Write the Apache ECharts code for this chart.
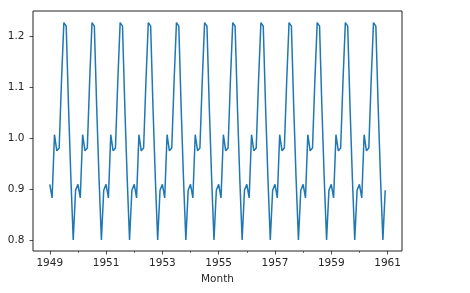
<!DOCTYPE html>
<html>
<head>
<meta charset="utf-8">
<script src="https://cdn.jsdelivr.net/npm/echarts@6/dist/echarts.min.js"></script>
<style>
html,body{margin:0;padding:0;background:#fff;}
#c{width:470px;height:293px;}
</style>
</head>
<body>
<div id="c"></div>
<script>
// Months 1949-01 .. 1960-12 (x as year fraction)
var startYear = 1949;
var seasonal = [
  0.9102, 0.8836, 1.0074, 0.9759, 0.9814, 1.1128, 1.2266, 1.2199, 1.0605, 0.9218, 0.8012, 0.8988,
  0.9102, 0.8836, 1.0074, 0.9759, 0.9814, 1.1128, 1.2266, 1.2199, 1.0605, 0.9218, 0.8012, 0.8988,
  0.9102, 0.8836, 1.0074, 0.9759, 0.9814, 1.1128, 1.2266, 1.2199, 1.0605, 0.9218, 0.8012, 0.8988,
  0.9102, 0.8836, 1.0074, 0.9759, 0.9814, 1.1128, 1.2266, 1.2199, 1.0605, 0.9218, 0.8012, 0.8988,
  0.9102, 0.8836, 1.0074, 0.9759, 0.9814, 1.1128, 1.2266, 1.2199, 1.0605, 0.9218, 0.8012, 0.8988,
  0.9102, 0.8836, 1.0074, 0.9759, 0.9814, 1.1128, 1.2266, 1.2199, 1.0605, 0.9218, 0.8012, 0.8988,
  0.9102, 0.8836, 1.0074, 0.9759, 0.9814, 1.1128, 1.2266, 1.2199, 1.0605, 0.9218, 0.8012, 0.8988,
  0.9102, 0.8836, 1.0074, 0.9759, 0.9814, 1.1128, 1.2266, 1.2199, 1.0605, 0.9218, 0.8012, 0.8988,
  0.9102, 0.8836, 1.0074, 0.9759, 0.9814, 1.1128, 1.2266, 1.2199, 1.0605, 0.9218, 0.8012, 0.8988,
  0.9102, 0.8836, 1.0074, 0.9759, 0.9814, 1.1128, 1.2266, 1.2199, 1.0605, 0.9218, 0.8012, 0.8988,
  0.9102, 0.8836, 1.0074, 0.9759, 0.9814, 1.1128, 1.2266, 1.2199, 1.0605, 0.9218, 0.8012, 0.8988,
  0.9102, 0.8836, 1.0074, 0.9759, 0.9814, 1.1128, 1.2266, 1.2199, 1.0605, 0.9218, 0.8012, 0.8988
];
var xMajorTicks = [1949, 1951, 1953, 1955, 1957, 1959, 1961];
var xMinorTicks = [1950, 1952, 1954, 1956, 1958, 1960];
var yTicks = [0.8, 0.9, 1.0, 1.1, 1.2];

var data = seasonal.map(function (v, i) { return [startYear + i / 12, v]; });

var xMin = 1948.404, xMax = 1961.5125;
var yMin = 0.7798, yMax = 1.2494;
var font = { fontFamily: 'DejaVu Sans', fontSize: 10.5, color: '#262626' };

var chart = echarts.init(document.getElementById('c'), null, { renderer: 'canvas' });
chart.setOption({
  animation: false,
  grid: { left: 33, top: 11, width: 369, height: 240, show: true, borderColor: '#222', borderWidth: 1, backgroundColor: 'transparent' },
  xAxis: [{
    type: 'value', min: xMin, max: xMax, position: 'bottom',
    name: 'Month', nameLocation: 'middle', nameGap: 23,
    nameTextStyle: font,
    axisLine: { show: false },
    splitLine: { show: false },
    axisTick: { show: true, length: 3.5, lineStyle: { color: '#222', width: 0.8 }, customValues: xMajorTicks },
    axisLabel: Object.assign({ margin: 7, customValues: xMajorTicks, formatter: function (v) { return String(Math.round(v)); } }, font)
  }, {
    type: 'value', min: xMin, max: xMax, position: 'bottom', gridIndex: 0,
    axisLine: { show: false }, splitLine: { show: false },
    axisTick: { show: true, length: 2, lineStyle: { color: '#222', width: 0.6 }, customValues: xMinorTicks },
    axisLabel: { show: false }
  }],
  yAxis: {
    type: 'value', min: yMin, max: yMax,
    axisLine: { show: false }, splitLine: { show: false },
    axisTick: { show: true, length: 3.5, lineStyle: { color: '#222', width: 0.8 }, customValues: yTicks },
    axisLabel: Object.assign({ margin: 8.5, customValues: yTicks, formatter: function (v) { return v.toFixed(1); } }, font)
  },
  series: [{
    type: 'line', data: data, xAxisIndex: 0, showSymbol: false,
    lineStyle: { color: '#1f77b4', width: 1.5 }, itemStyle: { color: '#1f77b4' }
  }]
});
</script>
</body>
</html>
